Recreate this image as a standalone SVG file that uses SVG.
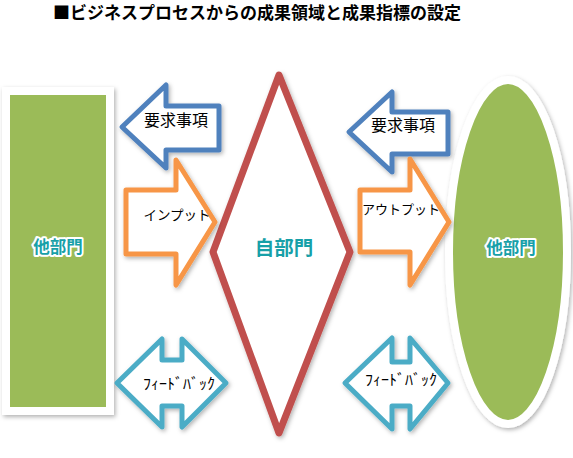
<svg xmlns="http://www.w3.org/2000/svg" width="573" height="458" viewBox="0 0 573 458">
<style>
.title{font-family:"Noto Sans CJK JP","Noto Sans",sans-serif;font-weight:bold;font-size:17px;fill:#000}
.lbl{font-family:"Noto Sans CJK JP","Noto Sans",sans-serif;font-weight:bold;fill:#17A0A8;stroke:#fff;stroke-width:4;paint-order:stroke;stroke-linejoin:round}
.t{font-family:"Noto Sans CJK JP","Noto Sans",sans-serif;fill:#000}
.sh{filter:url(#ds)}
</style>
<defs>
<filter id="ds" x="-20%" y="-20%" width="140%" height="140%">
<feDropShadow dx="1.5" dy="2" stdDeviation="2" flood-color="#000" flood-opacity="0.3"/>
</filter>
</defs>
<rect width="573" height="458" fill="#fff"/>
<text class="title" x="257" y="19" text-anchor="middle">■ビジネスプロセスからの成果領域と成果指標の設定</text>

<g id="left-dept">
<rect class="sh" x="6" y="91" width="104" height="320" fill="#9BBB59" stroke="#fff" stroke-width="8"/>
<text class="lbl" x="58" y="253" font-size="16.5" text-anchor="middle">他部門</text>
</g>

<g id="self-dept">
<polygon class="sh" points="279,75 350,252 279,433 213,252" fill="#fff" stroke="#C0504D" stroke-width="7" stroke-linejoin="round"/>
<text class="lbl" x="284" y="255" font-size="19.5" text-anchor="middle">自部門</text>
</g>

<g id="right-dept">
<ellipse class="sh" cx="508" cy="252" rx="59" ry="172" fill="#9BBB59" stroke="#fff" stroke-width="8"/>
<text class="lbl" x="511" y="254" font-size="16.5" text-anchor="middle">他部門</text>
</g>

<g id="connectors" fill="#fff" stroke-width="5" stroke-linejoin="round">
<g id="req-left">
<polygon class="sh" points="122,127 166,85 166,106 219,106 219,150 166,150 166,168" stroke="#4F81BD"/>
<text class="t" x="176" y="126" font-size="16" text-anchor="middle">要求事項</text>
</g>
<g id="input">
<polygon class="sh" points="126,190 176,190 176,160 215,222 176,285 176,254 126,254" stroke="#F79646"/>
<text class="t" x="177" y="220" font-size="13.5" text-anchor="middle">インプット</text>
</g>
<g id="fb-left">
<polygon class="sh" points="117,383 162,339 162,360 182,360 182,339 226,383 182,427 182,406 162,406 162,427" stroke="#4BACC6"/>
<text class="t" x="143" y="389" font-size="15" textLength="72" lengthAdjust="spacingAndGlyphs">ﾌｨｰﾄﾞﾊﾞｯｸ</text>
</g>
<g id="req-right">
<polygon class="sh" points="349,132 392,92 392,112 448,112 448,154 392,154 392,172" stroke="#4F81BD"/>
<text class="t" x="403" y="131" font-size="16" text-anchor="middle">要求事項</text>
</g>
<g id="output">
<polygon class="sh" points="360,190 410,190 410,159 449,222 410,285 410,252 360,252" stroke="#F79646"/>
<text class="t" x="401" y="214" font-size="13" text-anchor="middle">アウトプット</text>
</g>
<g id="fb-right">
<polygon class="sh" points="345,383 392,338 392,362 410,362 410,338 448,383 410,429 410,406 392,406 392,429" stroke="#4BACC6"/>
<text class="t" x="365" y="385" font-size="15" textLength="72" lengthAdjust="spacingAndGlyphs">ﾌｨｰﾄﾞﾊﾞｯｸ</text>
</g>
</g>
</svg>
